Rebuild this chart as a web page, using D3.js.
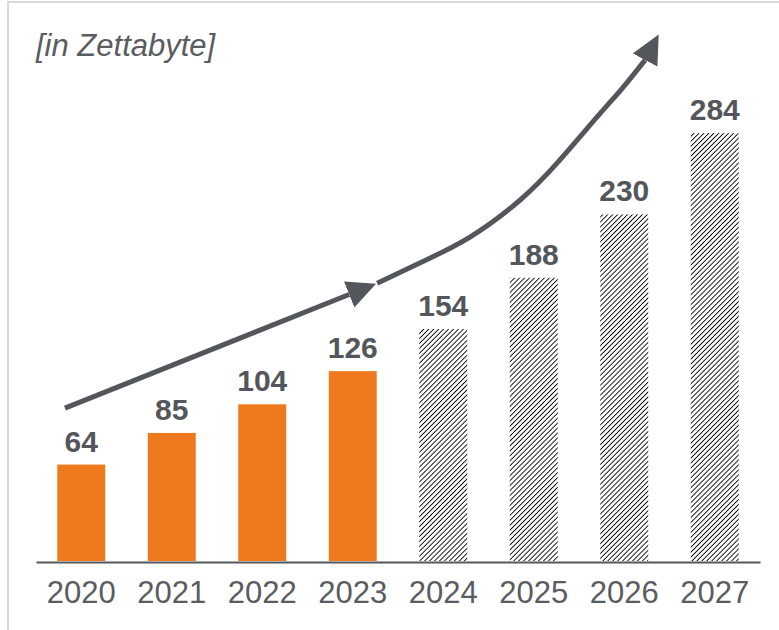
<!DOCTYPE html>
<html>
<head>
<meta charset="utf-8">
<script src="https://cdn.jsdelivr.net/npm/d3@7"></script>
<style>
    body { margin: 0; background: #fff; }
    svg { display: block; font-family: Arial, "Liberation Sans", sans-serif; }
</style>
</head>
<body>
<div id="chart"></div>
<script>
// data
const years = ['2020', '2021', '2022', '2023', '2024', '2025', '2026', '2027'];
const values = [64, 85, 104, 126, 154, 188, 230, 284];
const forecastYears = ['2024', '2025', '2026', '2027'];
const unitLabel = '[in Zettabyte]';

// trend arrows, in [year, value] units
const trendStraight = [[2019.82, 101.5], [2022.96, 176.9]];
const trendCurve = [
    [2023.27, 184.3], [2023.74, 197.8], [2024.30, 215.2], [2024.85, 239.6],
    [2025.26, 264.2], [2025.70, 294.7], [2025.98, 313.9], [2026.23, 332.5]
];

class GrowthChart {
    constructor(_config) {
        this.config = {
            parentElement: _config.parentElement,
            containerWidth: _config.containerWidth || 779,
            containerHeight: _config.containerHeight || 630,
            left: 36,
            right: 760,
            baseline: 561,
            top: 109
        };
        this.initVis();
    }

    initVis() {
        const vis = this;
        const c = vis.config;

        vis.svg = d3.select(c.parentElement).append('svg')
            .attr('width', c.containerWidth)
            .attr('height', c.containerHeight);

        const defs = vis.svg.append('defs');

        defs.append('pattern')
            .attr('id', 'hatch')
            .attr('patternUnits', 'userSpaceOnUse')
            .attr('width', 3.5)
            .attr('height', 3.5)
            .attr('patternTransform', 'rotate(45)')
          .append('line')
            .attr('x1', 0.6).attr('y1', 0)
            .attr('x2', 0.6).attr('y2', 3.5)
            .attr('stroke', '#000')
            .attr('stroke-width', 1)
            .attr('shape-rendering', 'crispEdges');

        // one marker follows the path, the other keeps the steeper angle of the reference
        [['arrowhead', 'auto'], ['arrowhead-up', -62]].forEach(([id, orient]) => {
            defs.append('marker')
                .attr('id', id)
                .attr('markerUnits', 'userSpaceOnUse')
                .attr('viewBox', '0 -15 30 30')
                .attr('markerWidth', 30)
                .attr('markerHeight', 30)
                .attr('refX', 0)
                .attr('refY', 0)
                .attr('orient', orient)
              .append('path')
                .attr('d', 'M0,-14L29,0L0,14Z')
                .attr('fill', '#53565a');
        });

        // frame
        vis.svg.append('path')
            .attr('d', `M8,${c.containerHeight}V2H${c.containerWidth}`)
            .attr('fill', 'none')
            .attr('stroke', '#d9d9d9')
            .attr('stroke-width', 2);

        vis.xScale = d3.scaleBand()
            .domain(years)
            .range([c.left, c.right])
            .paddingInner(0.47)
            .paddingOuter(0.235);

        vis.xYear = d3.scaleLinear()
            .domain([2019.5, 2027.5])
            .range([c.left, c.right]);

        vis.yScale = d3.scaleLinear()
            .domain([0, 300])
            .range([c.baseline, c.top]);

        vis.xAxis = d3.axisBottom(vis.xScale)
            .tickSize(0)
            .tickSizeOuter(0)
            .tickPadding(19);

        vis.svg.append('text')
            .attr('x', 36)
            .attr('y', 56)
            .attr('fill', '#595c61')
            .style('font-size', '31px')
            .style('font-style', 'italic')
            .text(unitLabel);

        vis.renderVis();
    }

    renderVis() {
        const vis = this;
        const rows = years.map((y, i) => ({ year: y, value: values[i] }));

        vis.svg.append('g').selectAll('rect')
            .data(rows)
            .join('rect')
            .attr('x', d => vis.xScale(d.year))
            .attr('y', d => vis.yScale(d.value))
            .attr('width', vis.xScale.bandwidth())
            .attr('height', d => vis.yScale(0) - vis.yScale(d.value))
            .attr('fill', d => forecastYears.includes(d.year) ? 'url(#hatch)' : '#ef7a1d');

        vis.svg.append('g').selectAll('text')
            .data(rows)
            .join('text')
            .attr('x', d => vis.xScale(d.year) + vis.xScale.bandwidth() / 2)
            .attr('y', d => vis.yScale(d.value) - 13)
            .attr('text-anchor', 'middle')
            .attr('fill', '#53565a')
            .style('font-size', '30px')
            .style('font-weight', 'bold')
            .text(d => d.value);

        const axisG = vis.svg.append('g')
            .attr('transform', `translate(0,${vis.config.baseline + 1})`)
            .call(vis.xAxis);
        axisG.select('.domain')
            .attr('stroke', '#53565a')
            .attr('stroke-width', 2);
        axisG.selectAll('text')
            .attr('fill', '#595c61')
            .style('font-size', '31px')
            .style('font-family', 'Arial, "Liberation Sans", sans-serif');

        const straight = d3.line()
            .x(d => vis.xYear(d[0]))
            .y(d => vis.yScale(d[1]));

        const curved = d3.line()
            .x(d => vis.xYear(d[0]))
            .y(d => vis.yScale(d[1]))
            .curve(d3.curveNatural);

        vis.svg.append('path')
            .attr('d', straight(trendStraight))
            .attr('fill', 'none')
            .attr('stroke', '#53565a')
            .attr('stroke-width', 5)
            .attr('marker-end', 'url(#arrowhead)');

        vis.svg.append('path')
            .attr('d', curved(trendCurve))
            .attr('fill', 'none')
            .attr('stroke', '#53565a')
            .attr('stroke-width', 5)
            .attr('marker-end', 'url(#arrowhead-up)');
    }
}

new GrowthChart({ parentElement: '#chart' });
</script>
</body>
</html>
